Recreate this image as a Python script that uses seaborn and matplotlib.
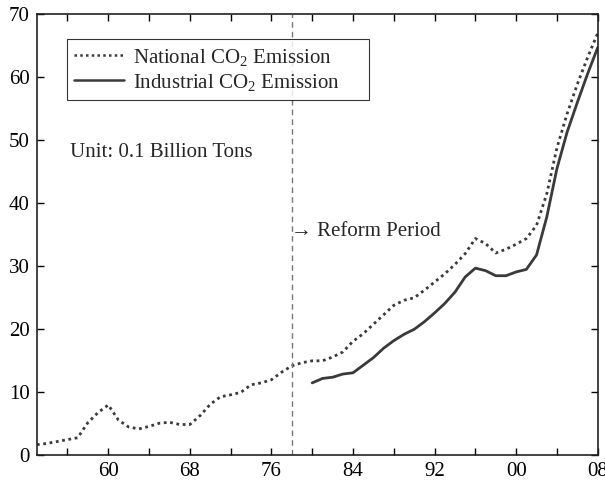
import matplotlib
matplotlib.use("Agg")
import matplotlib.pyplot as plt
import seaborn as sns
import pandas as pd

# Annual CO2 emission (unit: 0.1 billion tons)
national_years = list(range(1953, 2009))
national_values = [
    1.7, 1.9, 2.2, 2.5, 2.8, 5.2, 6.8, 8.0, 5.6, 4.5,
    4.2, 4.6, 5.1, 5.25, 4.9, 4.9, 6.3, 8.1, 9.3, 9.6,
    10.0, 11.2, 11.5, 12.0, 13.2, 14.2, 14.7, 15.0, 15.0, 15.6,
    16.4, 18.1, 19.3, 20.8, 22.3, 23.8, 24.6, 25.0, 26.2, 27.5,
    28.8, 30.3, 32.0, 34.4, 33.6, 32.1, 32.7, 33.5, 34.4, 36.5,
    41.5, 48.8, 54.2, 58.9, 63.1, 67.0,
]
industrial_years = list(range(1980, 2009))
industrial_values = [
    11.5, 12.2, 12.4, 12.9, 13.1, 14.3, 15.5, 17.0, 18.2, 19.2,
    20.0, 21.2, 22.6, 24.1, 25.9, 28.3, 29.7, 29.3, 28.5, 28.5,
    29.1, 29.5, 31.8, 37.8, 45.5, 51.3, 56.0, 60.5, 64.7,
]
tick_years = list(range(1956, 2009, 4))
tick_labels = ["" if y % 8 else f"{y % 100:02d}" for y in tick_years]
reform_year = 1978

national_label = "National CO$_2$ Emission"
industrial_label = "Industrial CO$_2$ Emission"

df = pd.concat([
    pd.DataFrame({"year": national_years, "value": national_values, "series": national_label}),
    pd.DataFrame({"year": industrial_years, "value": industrial_values, "series": industrial_label}),
])

sns.set_style("ticks")
plt.rcParams["font.family"] = ["Liberation Serif", "DejaVu Serif"]
plt.rcParams["mathtext.fontset"] = "custom"
plt.rcParams["mathtext.rm"] = "Liberation Serif"
plt.rcParams["mathtext.it"] = "Liberation Serif:italic"

fig = plt.figure(figsize=(6.05, 4.86), dpi=100)
ax = fig.add_axes([0.061, 0.063, 0.927, 0.908])

line_color = "#3a3a3a"
sns.lineplot(
    data=df, x="year", y="value", hue="series", style="series",
    palette={national_label: line_color, industrial_label: line_color},
    dashes={national_label: (1, 1.3), industrial_label: ""},
    linewidth=2.0, ax=ax,
)

ax.axvline(reform_year, color="#777777", linestyle=(0, (4, 3)), linewidth=1.0)

ax.set_xlim(1953, 2008)
ax.set_ylim(0, 70)
ax.set_xticks(tick_years)
ax.set_xticklabels(tick_labels)
ax.set_yticks(range(0, 71, 10))
ax.set_xlabel("")
ax.set_ylabel("")

ax.tick_params(direction="in", length=5, width=1.0, top=True, right=True,
               labelsize=15, colors="black", pad=5)
for side in ["left", "bottom", "top", "right"]:
    ax.spines[side].set_visible(True)
    ax.spines[side].set_linewidth(1.2)
    ax.spines[side].set_color("#222222")

# Legend box stretched to a fixed width in axes coordinates
leg = ax.legend(loc="upper left", bbox_to_anchor=(0.0535, 0.943, 0.538, 0.0),
                mode="expand", fontsize=15,
                frameon=True, fancybox=False, edgecolor="black",
                handlelength=2.4, handletextpad=0.4, borderpad=0.35,
                labelspacing=0.2, borderaxespad=0.0)
leg.get_frame().set_linewidth(0.8)
for h in leg.get_lines():
    h.set_linewidth(1.8)

ax.text(1956.2, 48.0, "Unit: 0.1 Billion Tons", fontsize=15, va="center", ha="left")
ax.text(reform_year - 0.05, 35.5, "\u2192 Reform Period", fontsize=15, va="center", ha="left")

fig.savefig("out.png", dpi=100)
